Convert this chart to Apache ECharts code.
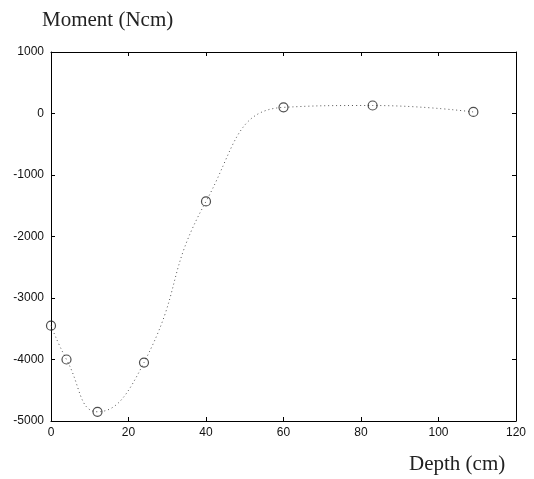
<!DOCTYPE html>
<html>
<head>
<meta charset="utf-8">
<script src="https://cdn.jsdelivr.net/npm/echarts@6.0.0/dist/echarts.min.js"></script>
<style>
    html, body { margin: 0; padding: 0; background: #fff; }
    #main { width: 534px; height: 479px; }
</style>
</head>
<body>
<div id="main"></div>
<script>
// measured points (circles)
var depth = [0, 4, 12, 24, 40, 60, 83, 109];
var moment = [-3450, -4000, -4850, -4050, -1430, 100, 130, 25];

var xTicks = [0, 20, 40, 60, 80, 100, 120];
var yTicks = [-5000, -4000, -3000, -2000, -1000, 0, 1000];

var points = [];
for (var i = 0; i < depth.length; i++) {
    points.push([depth[i], moment[i]]);
}

var tickFont = {
    color : '#111',
    fontFamily : 'Liberation Sans, Arial',
    fontSize : 12,
    formatter : function (v) { return String(v); }
};

var serif = {
    fontFamily : 'Liberation Serif, Times New Roman',
    fontWeight : 'normal',
    fontSize : 21,
    color : '#222'
};

var chart = echarts.init(document.getElementById('main'));
var option = {
    animation : false,
    backgroundColor : '#fff',
    title : [
        { text : 'Moment (Ncm)', left : 37, top : 5, textStyle : serif },
        { text : 'Depth (cm)', left : 404, top : 449, textStyle : serif }
    ],
    grid : {
        left : 51,
        right : 18,
        top : 52,
        bottom : 58
    },
    xAxis : [
        {
            type : 'value',
            min : xTicks[0],
            max : xTicks[xTicks.length - 1],
            interval : 20,
            axisLine : { onZero : false, lineStyle : { color : '#000', width : 1 } },
            axisTick : { inside : true, length : 4, lineStyle : { color : '#000' } },
            axisLabel : Object.assign({ margin : 6 }, tickFont),
            splitLine : { show : false }
        },
        {
            type : 'value',
            position : 'top',
            min : xTicks[0],
            max : xTicks[xTicks.length - 1],
            interval : 20,
            axisLine : { onZero : false, lineStyle : { color : '#000', width : 1 } },
            axisTick : { inside : true, length : 4, lineStyle : { color : '#000' } },
            axisLabel : { show : false },
            splitLine : { show : false }
        }
    ],
    yAxis : [
        {
            type : 'value',
            min : yTicks[0],
            max : yTicks[yTicks.length - 1],
            interval : 1000,
            axisLine : { show : true, onZero : false, lineStyle : { color : '#000', width : 1 } },
            axisTick : { show : true, inside : true, length : 4, lineStyle : { color : '#000' } },
            axisLabel : Object.assign({ margin : 7 }, tickFont),
            splitLine : { show : false }
        },
        {
            type : 'value',
            position : 'right',
            min : yTicks[0],
            max : yTicks[yTicks.length - 1],
            interval : 1000,
            axisLine : { show : true, onZero : false, lineStyle : { color : '#000', width : 1 } },
            axisTick : { show : true, inside : true, length : 4, lineStyle : { color : '#000' } },
            axisLabel : { show : false },
            splitLine : { show : false }
        }
    ],
    series : [
        {
            name : 'fit',
            type : 'line',
            smooth : 0.5,
            symbol : 'none',
            data : points,
            lineStyle : {
                color : '#555',
                width : 1,
                type : [1, 3]
            },
            z : 2
        },
        {
            name : 'moment',
            type : 'scatter',
            symbol : 'circle',
            symbolSize : 9,
            data : points,
            itemStyle : {
                color : 'rgba(255,255,255,0)',
                borderColor : '#222',
                borderWidth : 1.2
            },
            z : 3
        }
    ]
};
chart.setOption(option);
</script>
</body>
</html>
